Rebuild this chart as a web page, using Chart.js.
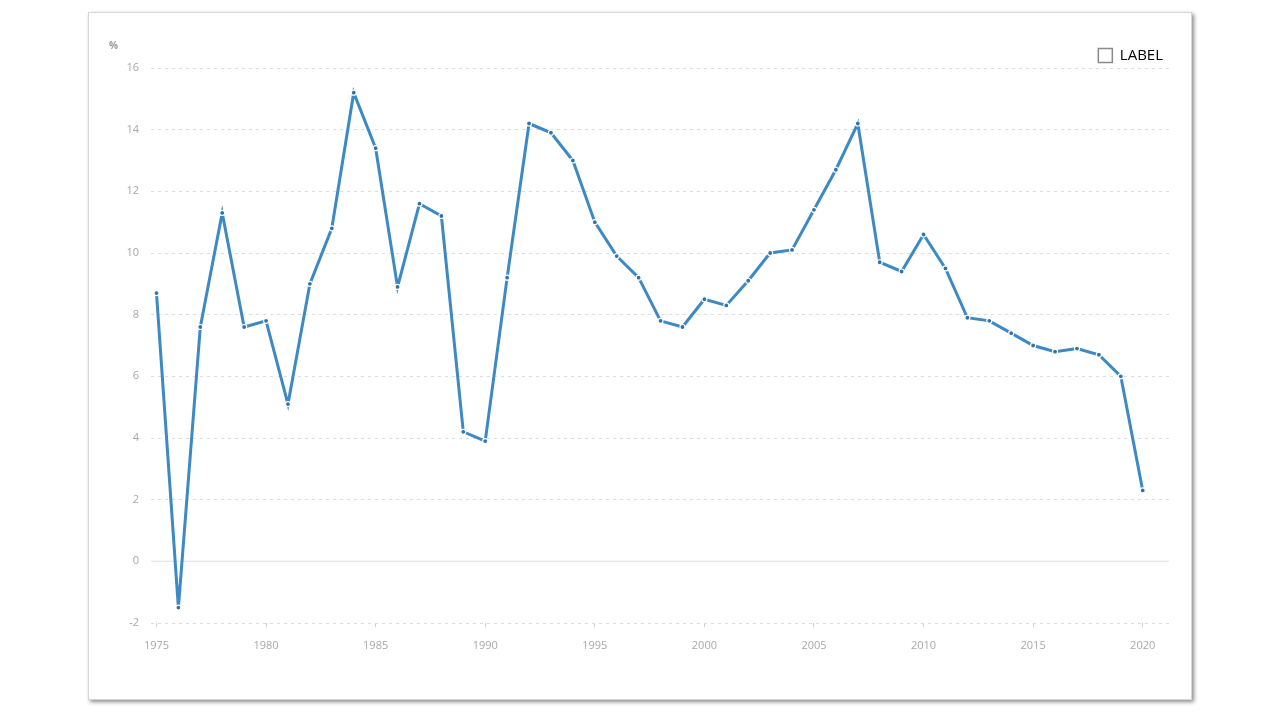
<!DOCTYPE html>
<html>
<head>
<meta charset="utf-8">
<script src="https://cdn.jsdelivr.net/npm/chart.js@4"></script>
<style>
  body { margin: 0; background: #fff; width: 1280px; height: 720px; overflow: hidden; }
  #card {
    position: absolute; left: 88px; top: 12px; width: 1102px; height: 686px;
    background: #fff; border: 1px solid #d6d6d6;
    box-shadow: 2px 2px 4px rgba(0,0,0,0.45);
  }
  canvas { display: block; }
</style>
</head>
<body>
<div id="card"><canvas id="chart" width="1102" height="686"></canvas></div>
<script>
// data
const years = [];
for (let y = 1975; y <= 2020; y++) years.push(y);
const values = [
  8.7, -1.5, 7.6, 11.3, 7.6, 7.8, 5.1, 9.0, 10.8, 15.2,
  13.4, 8.9, 11.6, 11.2, 4.2, 3.9, 9.2, 14.2, 13.9, 13.0,
  11.0, 9.9, 9.2, 7.8, 7.6, 8.5, 8.3, 9.1, 10.0, 10.1,
  11.4, 12.7, 14.2, 9.7, 9.4, 10.6, 9.5, 7.9, 7.8, 7.4,
  7.0, 6.8, 6.9, 6.7, 6.0, 2.3
];
const xTicks = [1975, 1980, 1985, 1990, 1995, 2000, 2005, 2010, 2015, 2020];
const seriesLabel = 'LABEL';
const unitLabel = '%';

const tickFont = { family: '"Open Sans", "DejaVu Sans", sans-serif', size: 11 };

// solid zero line + unit label; nudge legend down a bit
const extras = {
  id: 'extras',
  afterLayout(chart) {
    chart.legend.top += 5;
    chart.legend.bottom += 5;
  },
  beforeDatasetsDraw(chart) {
    const { ctx, chartArea, scales } = chart;
    const y0 = scales.y.getPixelForValue(0);
    ctx.save();
    ctx.strokeStyle = '#e6e9ec';
    ctx.lineWidth = 1.5;
    ctx.beginPath();
    ctx.moveTo(chartArea.left, y0);
    ctx.lineTo(chartArea.right, y0);
    ctx.stroke();
    ctx.fillStyle = '#9a9a9a';
    ctx.font = 'bold 10px "Open Sans", sans-serif';
    ctx.textAlign = 'left';
    ctx.textBaseline = 'middle';
    ctx.fillText(unitLabel, 20, 33);
    ctx.restore();
  }
};

new Chart(document.getElementById('chart'), {
  type: 'line',
  data: {
    datasets: [{
      label: seriesLabel,
      data: years.map((y, i) => ({ x: y, y: values[i] })),
      borderColor: '#3d89c3',
      borderWidth: 3,
      tension: 0,
      pointRadius: 2.5,
      pointBackgroundColor: '#2f73aa',
      pointBorderColor: '#ffffff',
      pointBorderWidth: 1.2
    }]
  },
  options: {
    responsive: false,
    animation: false,
    layout: { padding: { left: 0, right: 22, top: 24, bottom: 0 } },
    scales: {
      x: {
        type: 'linear',
        min: 1974.75,
        max: 2021.2,
        afterBuildTicks: s => { s.ticks = xTicks.map(v => ({ value: v })); },
        afterFit: s => { s.height = 76; },
        grid: { display: true, drawOnChartArea: false, drawTicks: true, tickLength: 4, color: '#cfcfcf' },
        border: { display: false },
        ticks: { color: '#a8a8a8', font: tickFont, padding: 12, maxRotation: 0, callback: v => String(v) }
      },
      y: {
        min: -2,
        max: 16,
        afterFit: s => { s.width = 62; },
        ticks: { stepSize: 2, color: '#a8a8a8', font: tickFont, padding: 12 },
        grid: { color: '#dcdcdc', lineWidth: 1, drawTicks: false },
        border: { display: false, dash: [3, 4] }
      }
    },
    plugins: {
      legend: {
        position: 'top',
        align: 'end',
        labels: {
          color: '#566070',
          font: { family: '"Open Sans", "DejaVu Sans", sans-serif', size: 15 },
          boxWidth: 14,
          boxHeight: 14,
          padding: 6,
          generateLabels: chart => [{
            text: seriesLabel,
            fillStyle: '#ffffff',
            strokeStyle: '#8a8a8a',
            lineWidth: 1.5,
            datasetIndex: 0
          }]
        }
      },
      tooltip: { enabled: false }
    }
  },
  plugins: [extras]
});
</script>
</body>
</html>
